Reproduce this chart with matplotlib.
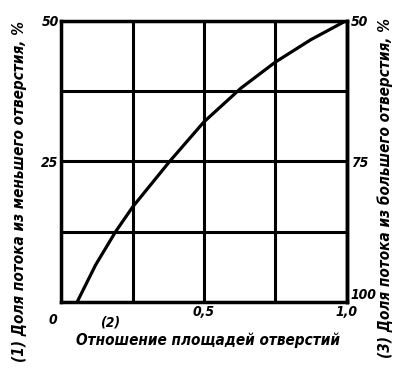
import matplotlib
matplotlib.use("Agg")
import matplotlib.pyplot as plt

# Data
area_ratio = [0.055, 0.12, 0.19, 0.25, 0.38, 0.50, 0.63, 0.75, 0.875, 1.00]
small_hole_share = [0.0, 6.6, 12.5, 16.9, 25.0, 32.0, 38.0, 42.6, 46.6, 50.0]

left_ticks = [0, 12.5, 25, 37.5, 50]
left_labels = ["", "", "25", "", "50"]
x_ticks = [0, 0.25, 0.5, 0.75, 1.0]
x_labels = ["", "", "0,5", "", "1,0"]
right_ticks = [50, 75, 100]
right_labels = ["50", "75", "100"]

plt.rcParams["font.family"] = ["DejaVu Sans"]
TXT = dict(fontweight="bold", style="italic", fontstretch="condensed")

fig = plt.figure(figsize=(3.96, 3.73), dpi=100)
ax = fig.add_axes([0.155, 0.19, 0.72, 0.755])

ax.plot(area_ratio, small_hole_share, color="black", lw=2.3,
        solid_capstyle="round", solid_joinstyle="round")

ax.set_xlim(0, 1.0)
ax.set_ylim(0, 50)
ax.set_xticks(x_ticks)
ax.set_xticklabels(x_labels, fontsize=10, **TXT)
ax.set_yticks(left_ticks)
ax.set_yticklabels(left_labels, fontsize=10, **TXT)
ax.tick_params(length=0, pad=2)
ax.grid(True, color="black", lw=2.2)
for s in ax.spines.values():
    s.set_linewidth(2.5)

sec = ax.secondary_yaxis("right", functions=(lambda y: 100 - y, lambda y: 100 - y))
sec.set_yticks(right_ticks)
sec.set_yticklabels(right_labels, fontsize=10, **TXT)
sec.tick_params(length=0, pad=3)
sec.spines["right"].set_linewidth(2.5)
sec.get_yticklabels()[-1].set_va("bottom")

fig.text(53 / 396, 1 - 320 / 373, "0", ha="center", va="center", fontsize=10, **TXT)
fig.text(110 / 396, 1 - 322 / 373, "(2)", ha="center", va="center", fontsize=10, **TXT)
fig.text(208 / 396, 1 - 340 / 373, "Отношение площадей отверстий", ha="center",
         va="center", fontsize=11, **TXT)
fig.text(20 / 396, 1 - 192 / 373, "(1) Доля потока из меньшего отверстия, %", rotation=90,
         ha="center", va="center", fontsize=11, **TXT)
fig.text(385 / 396, 1 - 188 / 373, "(3) Доля потока из большего отверстия, %", rotation=90,
         ha="center", va="center", fontsize=11, **TXT)

fig.savefig("out.png", dpi=100, facecolor="white")
